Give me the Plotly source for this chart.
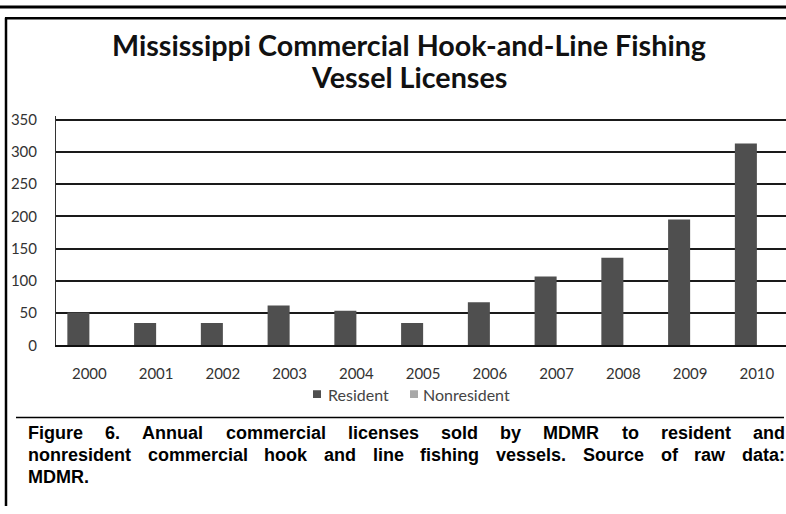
import plotly.graph_objects as go

# ---------------- data ----------------
years = ["2000", "2001", "2002", "2003", "2004", "2005", "2006", "2007", "2008", "2009", "2010"]
resident = [51, 35, 35, 62, 54, 35, 67, 107, 136, 195, 313]
nonresident = [0, 0, 0, 0, 0, 0, 0, 0, 0, 0, 0]
y_ticks = [0, 50, 100, 150, 200, 250, 300, 350]
series_names = ["Resident", "Nonresident"]
series_colors = ["#4f4f4f", "#a8a8a8"]

title_lines = ["Mississippi Commercial Hook-and-Line Fishing", "Vessel Licenses"]
caption_lines = [
    "Figure 6. Annual commercial licenses sold by MDMR to resident and",
    "nonresident commercial hook and line fishing vessels. Source of raw data:",
    "MDMR.",
]

W, H = 786, 514


def px(x):
    return x / W


def py(y):
    return 1 - y / H


fig = go.Figure()
for name, vals, col in zip(series_names, [resident, nonresident], series_colors):
    fig.add_trace(go.Bar(x=years, y=vals, name=name,
                         marker=dict(color=col, line=dict(width=0))))

# plot area geometry (pixels)
left, right = 56, 786
y0_px = 349
per_unit = 0.6637
ymax = 355
top_px = y0_px - ymax * per_unit
cat_w = 66.75
xmax = -0.5 + (right - left) / cat_w

fig.update_layout(
    width=W, height=H,
    margin=dict(l=0, r=0, t=0, b=0),
    paper_bgcolor="white", plot_bgcolor="white",
    barmode="group", bargap=0.34, bargroupgap=0.0,
    showlegend=False,
    xaxis=dict(domain=[px(left), px(right)], range=[-0.5, xmax], type="category",
               showgrid=False, showline=True, linecolor="#111", linewidth=2,
               ticks="", tickfont=dict(family="Lato", size=15, color="#333"),
               ticklabelstandoff=14),
    yaxis=dict(domain=[py(y0_px), py(top_px)], range=[0, ymax],
               tickvals=y_ticks, showgrid=True, gridcolor="#1a1a1a", gridwidth=1.8,
               zeroline=False, showline=True, linecolor="#333", linewidth=1,
               ticks="", tickfont=dict(family="Lato", size=15, color="#333"),
               ticklabelstandoff=15),
)

shapes = []
# outer top bar
shapes.append(dict(type="line", xref="paper", yref="paper", x0=0, x1=1, y0=py(1), y1=py(1),
                   line=dict(color="black", width=3)))
# inner box top and left
shapes.append(dict(type="line", xref="paper", yref="paper", x0=px(5), x1=1, y0=py(12.5), y1=py(12.5),
                   line=dict(color="black", width=2.5)))
shapes.append(dict(type="line", xref="paper", yref="paper", x0=px(6), x1=px(6), y0=py(12), y1=0,
                   line=dict(color="black", width=2.5)))
# separator
shapes.append(dict(type="line", xref="paper", yref="paper", x0=px(16), x1=px(784), y0=py(423), y1=py(423),
                   line=dict(color="black", width=1.6)))

# custom legend (marker squares + labels)
legend_items = [(313, 327), (410, 422)]
for (mx, tx), name, col in zip(legend_items, series_names, series_colors):
    shapes.append(dict(type="rect", xref="paper", yref="paper",
                       x0=px(mx), x1=px(mx + 8), y0=py(403), y1=py(395),
                       fillcolor=col, line=dict(width=0)))
    fig.add_annotation(xref="paper", yref="paper", x=px(tx - 1), y=py(399),
                       xanchor="left", yanchor="middle", showarrow=False,
                       text=name, font=dict(family="Lato", size=16, color="#444"))
fig.update_layout(shapes=shapes)

# title
for i, line in enumerate(title_lines):
    fig.add_annotation(xref="paper", yref="paper", x=px(409), y=py(40 + 33 * i),
                       xanchor="center", yanchor="middle", showarrow=False,
                       text="<b>%s</b>" % line,
                       font=dict(family="Lato", size=28.7, color="#111"))

# caption: justified using Arial Bold metrics (Liberation Sans Bold is metric-compatible)
aw = {
    'a': 556, 'b': 611, 'c': 556, 'd': 611, 'e': 556, 'f': 333, 'g': 611, 'h': 611, 'i': 278,
    'k': 556, 'l': 278, 'm': 889, 'n': 611, 'o': 611, 'r': 389, 's': 556, 't': 333, 'u': 611,
    'v': 556, 'w': 778, 'y': 556, 'A': 722, 'D': 722, 'F': 611, 'M': 833, 'R': 722, 'S': 667,
    '6': 556, '.': 278, ':': 333,
}
cap_fs = 18
cap_left, cap_right = 27, 784


def wwidth(word):
    return sum(aw.get(ch, 556) for ch in word) / 1000.0 * cap_fs


for li, line in enumerate(caption_lines):
    yline = py(439 + 22.5 * li)
    words = line.split(" ")
    if li < len(caption_lines) - 1 and len(words) > 1:
        widths = [wwidth(w) for w in words]
        gap = (cap_right - cap_left - sum(widths)) / (len(words) - 1)
        x = cap_left
        for w, wd in zip(words, widths):
            fig.add_annotation(xref="paper", yref="paper", x=px(x - 1), y=yline,
                               xanchor="left", yanchor="middle", showarrow=False,
                               text="<b>%s</b>" % w,
                               font=dict(family="Liberation Sans", size=cap_fs, color="black"))
            x += wd + gap
    else:
        fig.add_annotation(xref="paper", yref="paper", x=px(cap_left - 1), y=yline,
                           xanchor="left", yanchor="middle", showarrow=False,
                           text="<b>%s</b>" % line,
                           font=dict(family="Liberation Sans", size=cap_fs, color="black"))

fig.write_html("out.html", config={"displayModeBar": False},
               post_script="document.body.style.margin='0';document.body.style.overflow='hidden';")
